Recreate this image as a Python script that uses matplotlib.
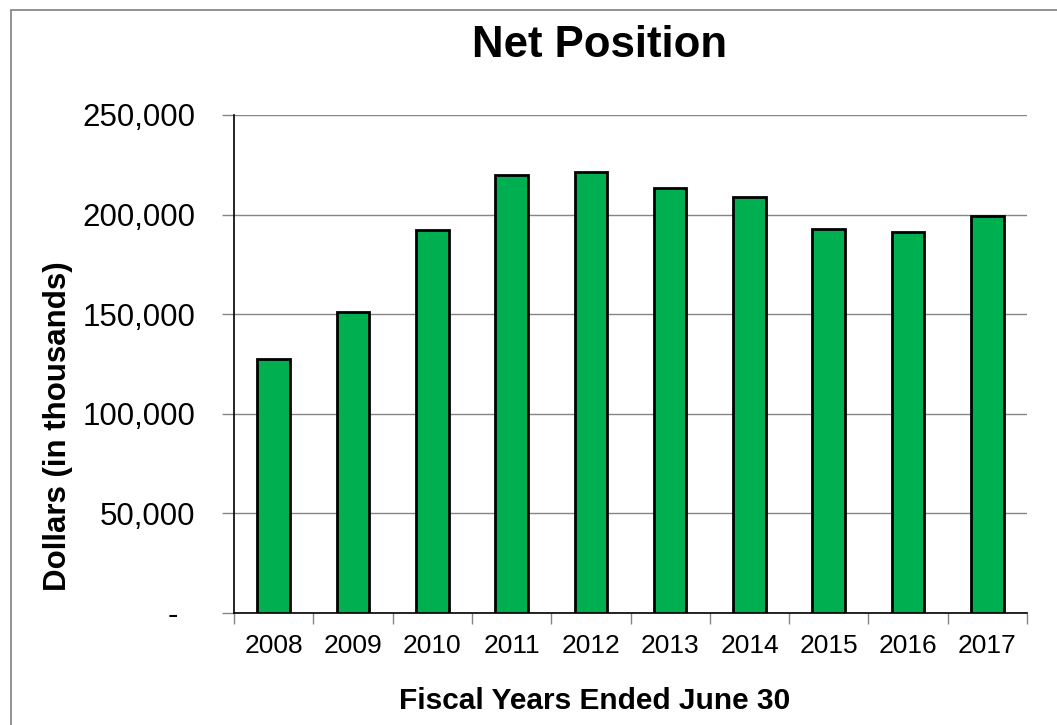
import matplotlib
matplotlib.use("Agg")
import matplotlib.pyplot as plt
from matplotlib.patches import Rectangle
from matplotlib.ticker import FuncFormatter
import numpy as np

plt.rcParams['font.family'] = ['Liberation Sans', 'DejaVu Sans']

# net position by fiscal year, dollars in thousands
years = ['2008', '2009', '2010', '2011', '2012', '2013', '2014', '2015', '2016', '2017']
net_position = [127500, 150900, 192300, 219700, 221500, 213500, 209000, 192800, 191100, 199300]
y_ticks = [0, 50000, 100000, 150000, 200000, 250000]

fig = plt.figure(figsize=(10.57, 7.25), dpi=100)
ax = fig.add_axes([0.2214, 0.1545, 0.7502, 0.6869])

x = np.arange(len(years))
ax.bar(x, net_position, width=0.41, color='#00B050', edgecolor='black',
       linewidth=2.0, zorder=3)

ax.set_xlim(-0.5, len(years) - 0.5)
ax.set_ylim(0, 250000)
ax.set_yticks(y_ticks)
# accounting style: zero shown as a dash
ax.yaxis.set_major_formatter(FuncFormatter(lambda v, p: '-  ' if v == 0 else f'{v:,.0f}'))
ax.grid(axis='y', color='#858585', linewidth=1.0, zorder=0)

# ticks sit between the categories, labels in the middle
ax.set_xticks(np.arange(-0.5, len(years)), minor=False)
ax.set_xticklabels([])
ax.set_xticks(x, minor=True)
ax.set_xticklabels(years, minor=True)
ax.tick_params(axis='x', which='major', direction='out', length=8, width=1, color='#858585')
ax.tick_params(axis='x', which='minor', length=0, labelsize=19, pad=15)
ax.tick_params(axis='y', direction='out', length=9, width=1, color='#858585',
               labelsize=22.5, pad=19)

for side in ('top', 'right'):
    ax.spines[side].set_visible(False)
ax.spines['left'].set_color('black')
ax.spines['bottom'].set_color('black')
ax.spines['left'].set_linewidth(1.2)
ax.spines['bottom'].set_linewidth(1.2)

fig.text(0.5676, 0.937, 'Net Position', ha='center', va='center',
         fontsize=31.5, fontweight='bold')
fig.text(0.0544, 0.412, 'Dollars (in thousands)', ha='center', va='center',
         rotation=90, fontsize=22.5, fontweight='bold')
fig.text(0.563, 0.033, 'Fiscal Years Ended June 30', ha='center', va='center',
         fontsize=21.5, fontweight='bold')

# chart frame, running past the right and bottom edges
fig.patches.append(Rectangle((0.0104, -0.1), 1.2, 1.0862, transform=fig.transFigure,
                             fill=False, edgecolor='#7f7f7f', linewidth=1.2))

fig.savefig('out.png', dpi=100)
